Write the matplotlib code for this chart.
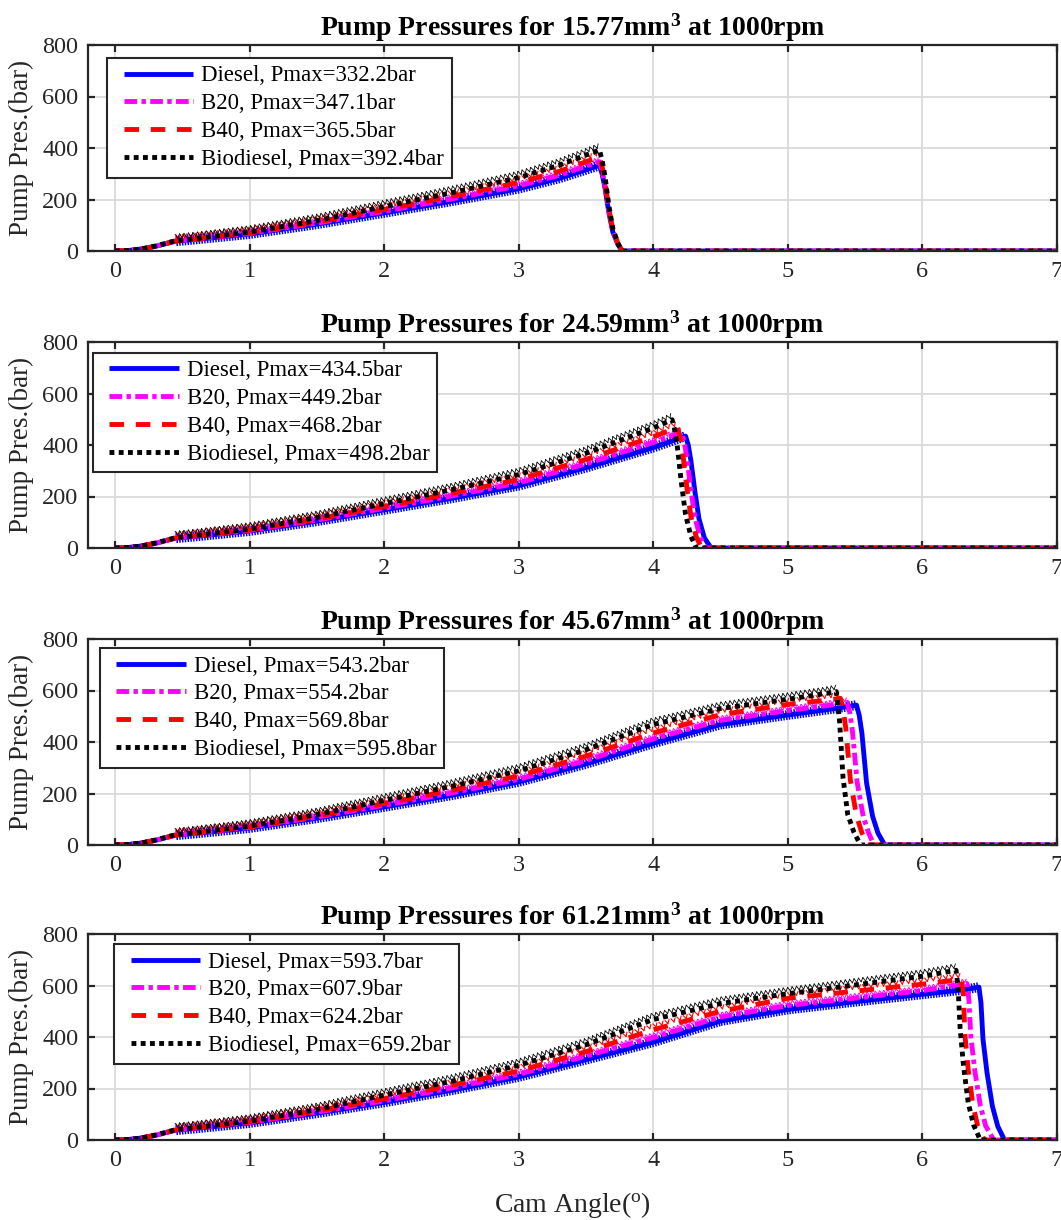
import numpy as np
import matplotlib
matplotlib.use("Agg")
import matplotlib.pyplot as plt
from matplotlib import patheffects as pe
from matplotlib.legend_handler import HandlerLine2D

plt.rcParams["font.family"] = ["Liberation Serif", "DejaVu Serif"]
plt.rcParams["mathtext.fontset"] = "custom"
plt.rcParams["mathtext.rm"] = "Liberation Serif"
plt.rcParams["mathtext.bf"] = "Liberation Serif:bold"
plt.rcParams["mathtext.it"] = "Liberation Serif:italic"

# ---------------------------------------------------------------- data
fuels = ["Diesel", "B20", "B40", "Biodiesel"]
volumes = ["15.77", "24.59", "45.67", "61.21"]
speed_rpm = 1000

# 15.77 mm^3 injection
rise_angle_15 = [0, 0.1, 0.2, 0.3, 0.45, 0.6, 1.0, 1.5, 2.0, 2.5, 3.0, 3.3]
end_angle_d15 = [3.6, 3.62, 3.64, 3.67, 3.70, 3.74, 3.77, 7.0]
end_angle_b20_15 = [3.6, 3.62, 3.64, 3.67, 3.70, 3.74, 3.77, 7.0]
end_angle_b40_15 = [3.6, 3.62, 3.64, 3.67, 3.70, 3.74, 3.77, 7.0]
end_angle_bio_15 = [3.6, 3.62, 3.64, 3.67, 3.70, 3.74, 3.77, 7.0]
bar_d15 = [0, 2, 8, 18, 38, 45, 66, 104, 148, 193, 242, 282, 332.2, 299, 249, 150, 73, 23, 0, 0]
bar_b20_15 = [0, 2, 8, 18, 38, 46, 68, 108, 154, 202, 253, 294, 347.1, 312, 260, 156, 76, 24, 0, 0]
bar_b40_15 = [0, 2, 8, 19, 39, 47, 70, 112, 161, 212, 266, 309, 365.5, 329, 274, 164, 80, 26, 0, 0]
bar_bio_15 = [0, 2, 8, 19, 40, 48, 73, 118, 172, 226, 285, 333, 392.4, 353, 294, 177, 86, 27, 0, 0]

# 24.59 mm^3 injection
rise_angle_25 = [0, 0.1, 0.2, 0.3, 0.45, 0.6, 1.0, 1.5, 2.0, 2.5, 3.0, 3.5, 4.0]
end_angle_d25 = [4.24, 4.26, 4.28, 4.31, 4.34, 4.38, 4.43, 7.0]
end_angle_b20_25 = [4.21, 4.23, 4.25, 4.28, 4.31, 4.35, 4.39, 7.0]
end_angle_b40_25 = [4.18, 4.20, 4.22, 4.25, 4.28, 4.32, 4.36, 7.0]
end_angle_bio_25 = [4.14, 4.16, 4.18, 4.21, 4.24, 4.28, 4.32, 7.0]
bar_d25 = [0, 2, 8, 18, 38, 45, 66, 104, 148, 193, 242, 312, 390, 434.5, 400, 339, 217, 113, 39, 0, 0]
bar_b20_25 = [0, 2, 8, 18, 38, 46, 68, 108, 154, 202, 253, 327, 410, 449.2, 413, 350, 225, 117, 40, 0, 0]
bar_b40_25 = [0, 2, 8, 19, 39, 47, 70, 112, 161, 212, 266, 344, 432, 468.2, 431, 365, 234, 122, 42, 0, 0]
bar_bio_25 = [0, 2, 8, 19, 40, 48, 73, 118, 172, 226, 285, 368, 466, 498.2, 458, 389, 249, 130, 45, 0, 0]

# 45.67 mm^3 injection
rise_angle_46 = [0, 0.1, 0.2, 0.3, 0.45, 0.6, 1.0, 1.5, 2.0, 2.5, 3.0, 3.5, 4.0, 4.5, 5.0]
end_angle_d46 = [5.35, 5.51, 5.53, 5.55, 5.585, 5.63, 5.67, 5.72, 7.0]
end_angle_b20_46 = [5.3, 5.44, 5.46, 5.48, 5.515, 5.56, 5.60, 5.64, 7.0]
end_angle_b40_46 = [5.3, 5.39, 5.41, 5.43, 5.465, 5.51, 5.55, 5.59, 7.0]
end_angle_bio_46 = [5.3, 5.36, 5.37, 5.385, 5.41, 5.445, 5.49, 5.54, 7.0]
bar_d46 = [0, 2, 8, 18, 38, 45, 66, 104, 148, 193, 245, 315, 395, 468, 505,
           530, 543.2, 505, 436, 241, 111, 46, 0, 0]
bar_b20_46 = [0, 2, 8, 18, 38, 46, 68, 108, 154, 202, 255, 328, 412, 484, 522,
              542, 554.2, 515, 443, 244, 111, 47, 0, 0]
bar_b40_46 = [0, 2, 8, 19, 39, 47, 70, 112, 161, 212, 268, 345, 435, 506, 546,
              563, 569.8, 530, 456, 251, 114, 48, 0, 0]
bar_bio_46 = [0, 2, 8, 19, 40, 48, 73, 118, 173, 228, 288, 370, 468, 530, 566,
              590, 595.8, 554, 477, 262, 119, 51, 0, 0]

# 61.21 mm^3 injection
rise_angle_61 = [0, 0.1, 0.2, 0.3, 0.45, 0.6, 1.0, 1.5, 2.0, 2.5, 3.0, 3.5, 4.0, 4.5,
                 5.0, 5.5, 6.0]
end_angle_d61 = [6.3, 6.42, 6.435, 6.45, 6.48, 6.52, 6.56, 6.61, 7.0]
end_angle_b20_61 = [6.33, 6.345, 6.36, 6.39, 6.43, 6.47, 6.53, 7.0]
end_angle_b40_61 = [6.29, 6.305, 6.315, 6.34, 6.375, 6.41, 6.46, 7.0]
end_angle_bio_61 = [6.25, 6.265, 6.28, 6.305, 6.34, 6.38, 6.43, 7.0]
bar_d61 = [0, 2, 8, 18, 38, 45, 66, 104, 146, 193, 245, 312, 380, 462, 507, 537, 566,
           583, 593.7, 534, 392, 261, 131, 53, 0, 0]
bar_b20_61 = [0, 2, 8, 18, 38, 46, 68, 108, 152, 202, 255, 326, 398, 478, 522, 551, 580,
              607.9, 547, 401, 267, 134, 55, 0, 0]
bar_b40_61 = [0, 2, 8, 19, 39, 47, 70, 112, 160, 212, 268, 343, 428, 500, 550, 578, 605,
              624.2, 562, 412, 275, 137, 56, 0, 0]
bar_bio_61 = [0, 2, 8, 19, 40, 48, 73, 118, 174, 228, 290, 370, 468, 530, 568, 602, 636,
              659.2, 593, 435, 290, 145, 59, 0, 0]

panels = [
    (rise_angle_15, [end_angle_d15, end_angle_b20_15, end_angle_b40_15, end_angle_bio_15],
     [bar_d15, bar_b20_15, bar_b40_15, bar_bio_15]),
    (rise_angle_25, [end_angle_d25, end_angle_b20_25, end_angle_b40_25, end_angle_bio_25],
     [bar_d25, bar_b20_25, bar_b40_25, bar_bio_25]),
    (rise_angle_46, [end_angle_d46, end_angle_b20_46, end_angle_b40_46, end_angle_bio_46],
     [bar_d46, bar_b20_46, bar_b40_46, bar_bio_46]),
    (rise_angle_61, [end_angle_d61, end_angle_b20_61, end_angle_b40_61, end_angle_bio_61],
     [bar_d61, bar_b20_61, bar_b40_61, bar_bio_61]),
]

# ---------------------------------------------------------------- styles
colors = ["#0000ff", "#ff00ff", "#ff0000", "#000000"]
dashes = [None, (2.6, 0.9, 0.9, 0.9), (3.0, 2.4), (1.0, 0.9)]
LW = 3.5
# crossed tick strokes imitating the dense marker band riding on each curve
ripple_effects = [
    [pe.TickedStroke(offset=(0, 0), spacing=2.0, angle=90, length=1.5, linewidth=1.1),
     pe.TickedStroke(offset=(0, 0), spacing=2.0, angle=-90, length=1.5, linewidth=1.1)],
    [pe.TickedStroke(offset=(0, 0.8), spacing=3.0, angle=60, length=0.9, linewidth=0.7),
     pe.TickedStroke(offset=(0, 0.8), spacing=3.0, angle=120, length=0.9, linewidth=0.7)],
    [pe.TickedStroke(offset=(0, 1.6), spacing=4.5, angle=60, length=0.65, linewidth=0.8),
     pe.TickedStroke(offset=(0, 1.6), spacing=4.5, angle=120, length=0.65, linewidth=0.8)],
    [pe.TickedStroke(offset=(0, 1.8), spacing=3.2, angle=60, length=1.0, linewidth=0.6),
     pe.TickedStroke(offset=(0, 1.8), spacing=3.2, angle=120, length=1.0, linewidth=0.6)],
]

legend_anchor = [(0.0196, 0.937), (0.005, 0.947), (0.012, 0.956), (0.027, 0.951)]

SPINE = "#262626"
fig = plt.figure(figsize=(10.61, 12.2), dpi=100)
ax_left, ax_w, ax_h = 88 / 1061, 969 / 1061, 206 / 1220
bottoms = [1 - 251 / 1220, 1 - 548 / 1220, 1 - 845 / 1220, 1 - 1140 / 1220]

axes = []
for k, (rise, ends, bars) in enumerate(panels):
    ax = fig.add_axes([ax_left, bottoms[k], ax_w, ax_h])
    axes.append(ax)
    handles = []
    for j in range(4):
        ang = np.array(rise + ends[j])
        bar = np.array(bars[j])
        pmax = bar.max()
        line, = ax.plot(ang, bar, color=colors[j], lw=LW, solid_capstyle="butt",
                        dash_capstyle="butt", solid_joinstyle="round",
                        label=f"{fuels[j]}, Pmax={pmax:.1f}bar", zorder=3 + j)
        if dashes[j] is not None:
            line.set_dashes(dashes[j])
        handles.append(line)
        # ripple band on the compression stroke
        i0 = int(np.searchsorted(ang, 0.45))
        ip = int(np.argmax(bar))
        rl, = ax.plot(ang[i0:ip + 1], bar[i0:ip + 1], color=colors[j], lw=0.8,
                      ls="-", zorder=3 + j)
        rl.set_path_effects(ripple_effects[j])

    ax.set_xlim(-0.2, 7)
    ax.set_ylim(0, 800)
    ax.set_xticks(range(0, 8))
    ax.set_yticks(range(0, 801, 200))
    ax.grid(True, color="#dadada", lw=1.3, zorder=0)
    ax.set_axisbelow(True)
    for s in ax.spines.values():
        s.set_linewidth(1.6)
        s.set_color(SPINE)
        s.set_zorder(10)
    ax.tick_params(direction="in", length=5, width=1.6, color=SPINE, labelsize=17.5,
                   labelcolor=SPINE, top=True, right=True, pad=7)
    ax.set_ylabel("Pump Pres.(bar)", fontsize=19.5, color=SPINE)
    ax.yaxis.set_label_coords(-0.056, 0.5)
    ax.set_title(rf"Pump Pressures for {volumes[k]}mm$^\mathbf{{3}}$ at {speed_rpm}rpm",
                 fontsize=20, fontweight="bold", pad=7)

    leg = ax.legend(handles=handles, loc="upper left", bbox_to_anchor=legend_anchor[k],
                    borderaxespad=0, fontsize=16.4, frameon=True, fancybox=False,
                    framealpha=1, edgecolor=SPINE, handlelength=3.45, handletextpad=0.36,
                    labelspacing=0.3, borderpad=0.33,
                    handler_map={h: HandlerLine2D(xpad=0.4) for h in handles})
    leg.get_frame().set_linewidth(1.5)
    leg.set_zorder(20)

axes[-1].set_xlabel(r"Cam Angle($^{\rm o}$)", fontsize=20, color=SPINE)
axes[-1].xaxis.set_label_coords(0.5, -0.243)

fig.savefig("out.png", dpi=100)
